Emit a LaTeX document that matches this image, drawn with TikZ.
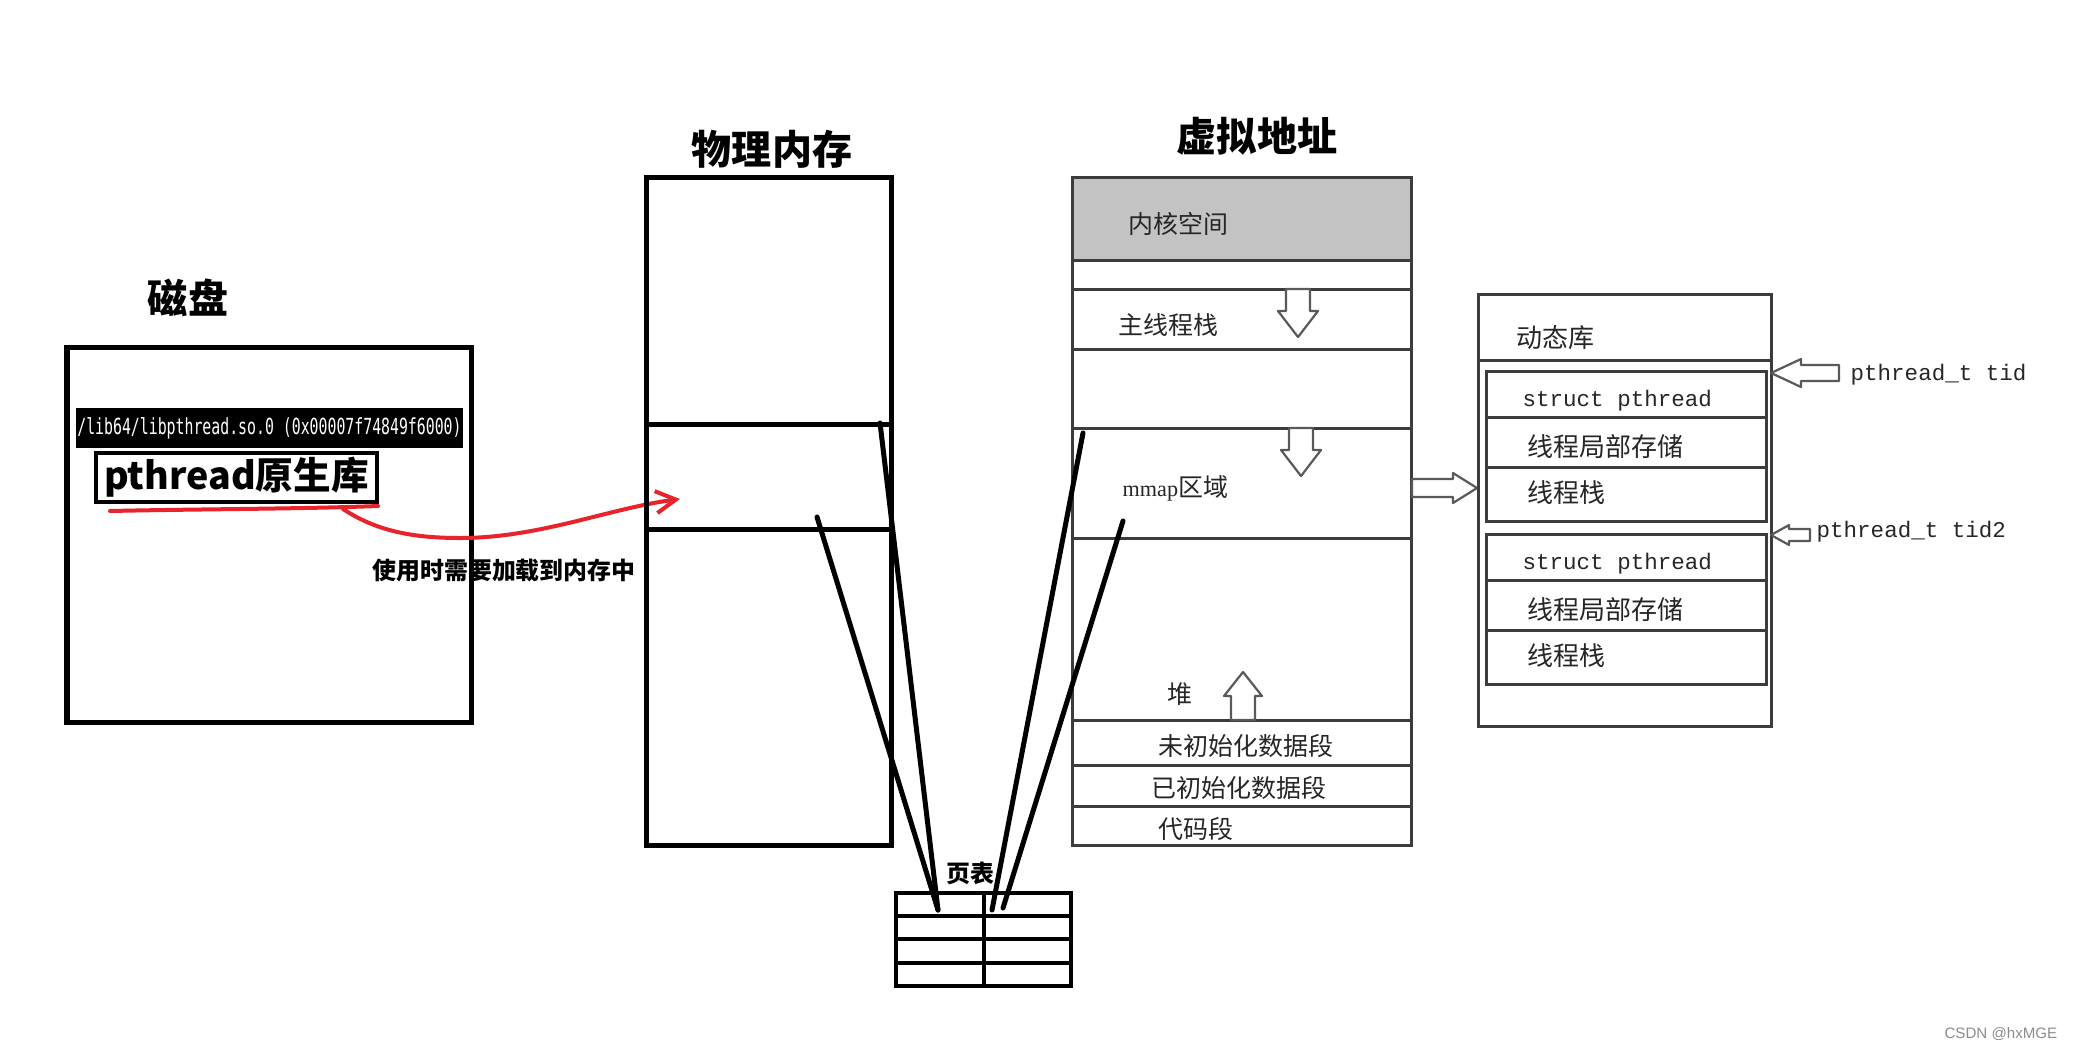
\documentclass[tikz,border=0pt]{standalone}
\usepackage{fontspec}
\setmainfont{Liberation Serif}
\newfontfamily\cjk{Noto Sans CJK SC}
\newfontfamily\termfont[FakeStretch=0.67]{DejaVu Sans Mono}
\newfontfamily\codefont{Liberation Mono}
\newfontfamily\markfont{Liberation Sans}
\usetikzlibrary{arrows.meta,fit,calc}

\definecolor{penred}{HTML}{E8232B}
\definecolor{kernelgray}{HTML}{C3C3C3}
\definecolor{sketch}{HTML}{3C3C3C}

\begin{document}
\begin{tikzpicture}[x=0.01cm, y=-0.01cm,
    title/.style={font=\cjk\bfseries\fontsize{11.4}{13}\selectfont, inner sep=0pt},
    heavy/.style={draw, line width=0.05cm, inner sep=0pt},
    thin/.style={draw=sketch, line width=0.03cm},
    seg/.style={font=\cjk\fontsize{7.1}{8.5}\selectfont, text=black!85, inner sep=0pt, anchor=west},
    dyn/.style={seg, font=\cjk\fontsize{7.4}{9}\selectfont},
    code/.style={font=\codefont\fontsize{6.4}{8}\selectfont, text=black!85, inner sep=0pt, anchor=west},
    map/.style={line width=0.05cm, line cap=round},
    redpen/.style={penred, line width=0.04cm, line cap=round},
    hollow/.style={draw=black!65, fill=white, line width=0.022cm, line join=round},
    pics/fatarrow/.style n args={4}{code={
        \draw[hollow] (0,-#2) -- (#1-#4,-#2) -- (#1-#4,-#3) -- (#1,0)
          -- (#1-#4,#3) -- (#1-#4,#2) -- (0,#2) -- cycle;}},
]
\useasboundingbox (0,0) rectangle (2073,1048);
\fill[white] (0,0) rectangle (2073,1048);

% Disk
\node[title] (disktitle) at (188,298) {磁盘};
\node[heavy, fit={(67,347) (471,722)}] (disk) {};
\node[fill=black, text=white, font=\termfont\fontsize{6.3}{7}\selectfont,
      minimum width=3.87cm, minimum height=0.4cm, inner sep=0pt] (libpath) at (269.5,428)
      {/lib64/libpthread.so.0 (0x00007f74849f6000)};
\node[draw, line width=0.04cm, font=\cjk\bfseries\fontsize{10.7}{12}\selectfont,
      minimum width=2.81cm, minimum height=0.49cm, inner sep=0pt] (lib) at (236.5,477.5) {pthread原生库};

% Load into memory (red pen)
\coordinate (ulstart) at (110,511);
\coordinate (ulend) at (378,506);
\coordinate (loadstart) at (343,509);
\coordinate (loadtip) at (680,499);
\draw[redpen] (ulstart) .. controls (200,509) and (300,509) .. (ulend);
\draw[redpen, -{Straight Barb[length=0.2cm, width=0.22cm]}] (loadstart)
    .. controls (375,530) and (410,538) .. (460,538)
    .. controls (540,538) and (610,508) .. (loadtip);
\node[font=\cjk\bfseries\fontsize{6.8}{8}\selectfont, inner sep=0pt] (loadnote) at (504,570) {使用时需要加载到内存中};

% Physical memory
\node[title] (memtitle) at (772,149) {物理内存};
\node[heavy, fit={(646,177) (891,845)}] (mem) {};
\node[heavy, fit={(646,424) (891,529)}] (memband) {};

% Page table
\node[font=\cjk\bfseries\fontsize{6.8}{8}\selectfont, inner sep=0pt] (pttitle) at (970,873) {页表};
\node[draw, line width=0.045cm, inner sep=0pt, fit={(896,893) (1071,986)}] (ptable) {};
\foreach \y in {916,939,963}
    \draw[line width=0.045cm] (896,\y) -- (1071,\y);
\draw[line width=0.045cm] (984,893) -- (984,986);

% Virtual address space
\node[title] (vtitle) at (1257,136) {虚拟地址};
\fill[kernelgray] (1072,177) rectangle (1411,260);
\node[thin, inner sep=0pt, fit={(1072,177) (1411,845)}] (vspace) {};
\foreach \y in {260,289,349,428,538,720,765,806}
    \draw[thin] (1072,\y) -- (1411,\y);
\node[seg] (kernel) at (1128,224) {内核空间};
\node[seg] (mainstack) at (1118,325) {主线程栈};
\node[seg] (mmap) at (1122,488) {{\rmfamily\fontsize{6.3}{8}\selectfont mmap}区域};
\node[seg] (heap) at (1167,694) {堆};
\node[seg] (bss) at (1158,746) {未初始化数据段};
\node[seg] (data) at (1151,788) {已初始化数据段};
\node[seg] (codeseg) at (1158,829) {代码段};

\pic[rotate=-90] at (1298,289) {fatarrow={48}{12}{20}{26}};
\pic[rotate=-90] at (1301,428) {fatarrow={48}{12}{20}{26}};
\pic[rotate=90] at (1243,720) {fatarrow={48}{12}{19}{24}};
\pic at (1412,488) {fatarrow={65}{9}{15}{24}};

% Mapping lines
\coordinate (physA) at (880,423);
\coordinate (physB) at (817,517);
\coordinate (virtA) at (1083,433);
\coordinate (virtB) at (1123,521);
\coordinate (cellL) at (938,910);
\coordinate (cellR) at (992,910);
\coordinate (cellR2) at (1003,908);
\draw[map] (physA) -- (cellL);
\draw[map] (physB) -- (cellL);
\draw[map] (virtA) -- (cellR);
\draw[map] (virtB) -- (cellR2);

% Shared library area
\node[thin, inner sep=0pt, fit={(1478,294) (1771,726)}] (dynlib) {};
\draw[thin] (1478,360) -- (1771,360);
\node[dyn] (dyntitle) at (1516,338) {动态库};
\foreach \t/\n in {371/1, 534/2} {
    \node[thin, inner sep=0pt, fit={(1486,\t) (1766,\t+150)}] (tcb\n) {};
    \draw[thin] (1486,\t+46) -- (1766,\t+46);
    \draw[thin] (1486,\t+96) -- (1766,\t+96);
    \node[code] (tcbstruct\n) at (1522,\t+30) {struct pthread};
    \node[dyn] (tls\n) at (1527,\t+76) {线程局部存储};
    \node[dyn] (tstack\n) at (1527,\t+122) {线程栈};
}
\pic[rotate=180] at (1839,373) {fatarrow={68}{8}{14}{30}};
\pic[rotate=180] at (1810,535) {fatarrow={39}{6}{10}{18}};
\node[code] (tid) at (1850,375) {pthread\_t tid};
\node[code] (tid2) at (1816,532) {pthread\_t tid2};

% Watermark
\node[font=\markfont\fontsize{4.3}{5}\selectfont, text=black!45, anchor=east, inner sep=0pt] (mark) at (2058,1034) {CSDN @hxMGE};
\end{tikzpicture}
\end{document}
